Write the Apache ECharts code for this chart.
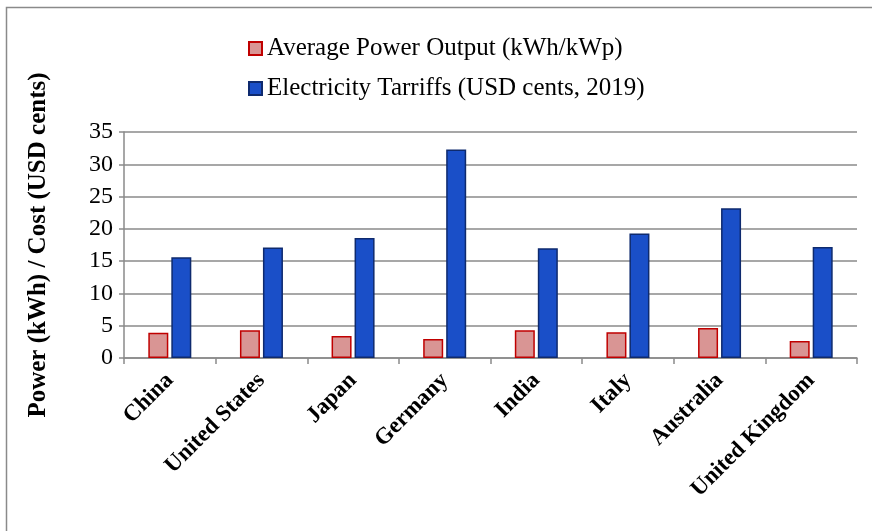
<!DOCTYPE html>
<html>
<head>
<meta charset="utf-8">
<style>
  html, body { margin: 0; padding: 0; background: #fff; }
  #chart { width: 872px; height: 531px; }
</style>
<script src="https://cdn.jsdelivr.net/npm/echarts@6/dist/echarts.min.js"></script>
</head>
<body>
<div id="chart"></div>
<script>
(function() {
  let countries = ['China', 'United States', 'Japan', 'Germany', 'India', 'Italy', 'Australia', 'United Kingdom']
  let powerOutput = [3.9, 4.3, 3.4, 2.95, 4.3, 4.0, 4.65, 2.65]
  let tariffs = [15.6, 17.1, 18.6, 32.3, 17.0, 19.3, 23.2, 17.2]
  let seriesNames = ['Average Power Output (kWh/kWp)', 'Electricity Tarriffs (USD cents, 2019)']

  let serif = '"Liberation Serif", "Times New Roman", serif'
  let myChart = echarts.init(document.getElementById('chart'))
  let option = {
    animation: false,
    textStyle: { fontFamily: serif },
    // outer frame
    graphic: [{
      type: 'rect',
      shape: { x: 6.5, y: 7.5, width: 880, height: 540 },
      style: { fill: 'none', stroke: '#8a8a8a', lineWidth: 1.5 },
      silent: true
    }],
    legend: {
      orient: 'vertical',
      left: 248,
      top: 36,
      padding: 0,
      itemGap: 15,
      itemWidth: 13,
      itemHeight: 13,
      icon: 'rect',
      textStyle: { fontFamily: serif, fontSize: 25, color: '#000', padding: [0, 0, 0, 0] },
      data: seriesNames
    },
    grid: {
      left: 124,
      top: 132,
      right: 15,
      bottom: 173
    },
    xAxis: {
      type: 'category',
      data: countries,
      axisTick: { show: true, length: 6, lineStyle: { color: '#8a8a8a', width: 1.5 } },
      axisLine: { lineStyle: { color: '#8a8a8a', width: 1.5 } },
      axisLabel: {
        rotate: 45,
        interval: 0,
        margin: 19,
        color: '#000',
        fontFamily: serif,
        fontWeight: 'bold',
        fontSize: 23
      }
    },
    yAxis: {
      type: 'value',
      min: 0,
      max: 35,
      interval: 5,
      name: 'Power (kWh) / Cost (USD cents)',
      nameLocation: 'middle',
      nameGap: 73,
      nameTextStyle: { fontFamily: serif, fontWeight: 'bold', fontSize: 25, color: '#000' },
      axisLine: { show: true, lineStyle: { color: '#8a8a8a', width: 1.5 } },
      axisTick: { show: true, length: 5, lineStyle: { color: '#8a8a8a', width: 1.5 } },
      axisLabel: { color: '#000', fontFamily: serif, fontSize: 24, margin: 11 },
      splitLine: { lineStyle: { color: '#8a8a8a', width: 1.5 } }
    },
    series: [
      {
        name: seriesNames[0],
        type: 'bar',
        barWidth: 20,
        barGap: '15%',
        data: powerOutput,
        itemStyle: { color: '#d99594', borderColor: '#c00000', borderWidth: 1.5 }
      },
      {
        name: seriesNames[1],
        type: 'bar',
        barWidth: 20,
        barGap: '15%',
        data: tariffs,
        itemStyle: { color: '#1a4fc8', borderColor: '#0e2a6e', borderWidth: 1.5 }
      }
    ]
  }
  myChart.setOption(option)
  window.addEventListener('resize', function() {
    myChart.resize()
  })
})();
</script>
</body>
</html>
